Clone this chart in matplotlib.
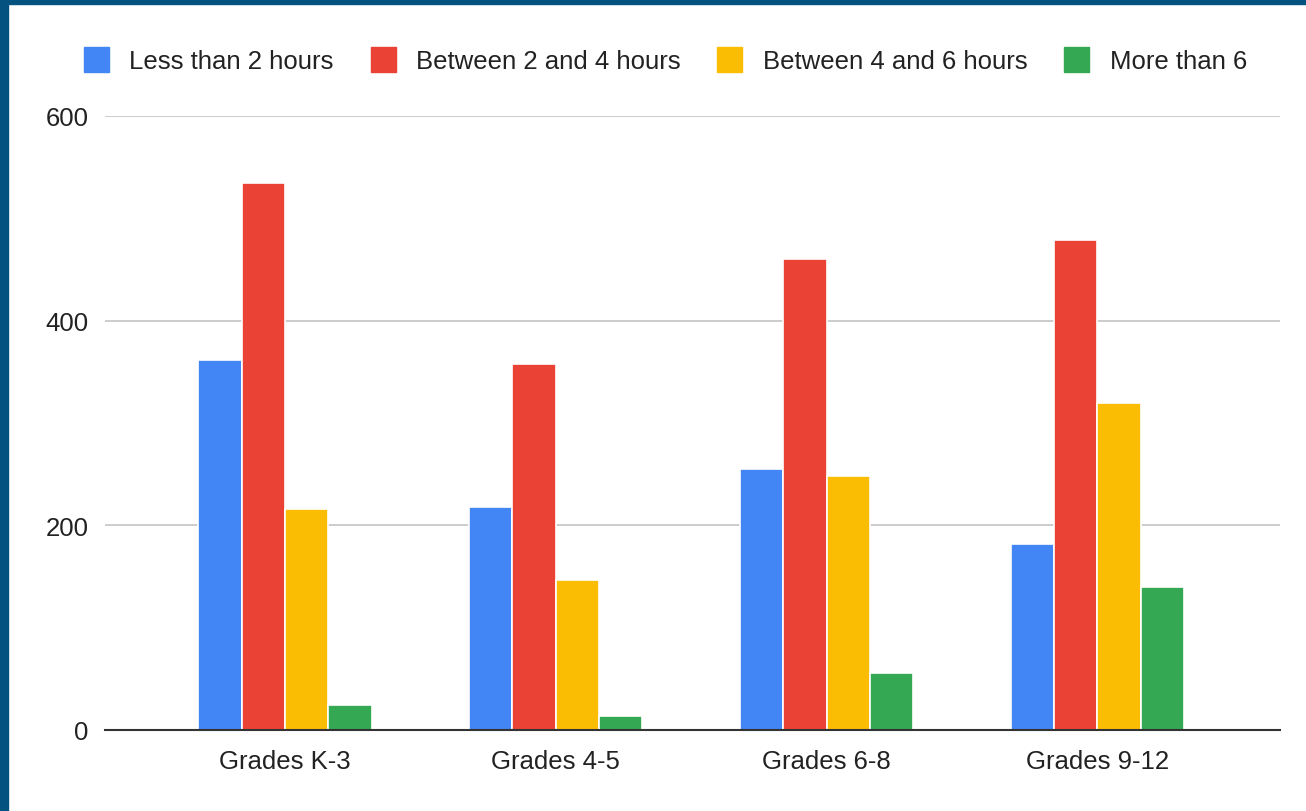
import numpy as np
import matplotlib
matplotlib.use('Agg')
import matplotlib.pyplot as plt
from matplotlib.lines import Line2D
from matplotlib.patches import Rectangle

# 数据
grades = ['Grades K-3', 'Grades 4-5', 'Grades 6-8', 'Grades 9-12']
series = ['Less than 2 hours', 'Between 2 and 4 hours', 'Between 4 and 6 hours', 'More than 6']
less_than_2 = [362, 218, 255, 182]
between_2_4 = [535, 358, 460, 479]
between_4_6 = [216, 147, 248, 320]
more_than_6 = [24, 14, 56, 140]
colors = ['#4285F4', '#EA4335', '#FBBC04', '#34A853']
y_ticks = [0, 200, 400, 600]

plt.rcParams['font.family'] = ['Liberation Sans', 'DejaVu Sans']
fs = 18.5

fig = plt.figure(figsize=(13.06, 8.12), dpi=100)
# 外框（左、上的深蓝边）
fig.patches.append(Rectangle((0, 0), 8 / 1306, 1, transform=fig.transFigure,
                             color='#03527F', zorder=0))
fig.patches.append(Rectangle((0, 1 - 5 / 812), 1, 5 / 812, transform=fig.transFigure,
                             color='#03527F', zorder=0))

ax = fig.add_axes([105 / 1306, 1 - 731 / 812, 1175 / 1306, (731 - 117) / 812])

x = np.arange(len(grades))
w = 0.16
data = [less_than_2, between_2_4, between_4_6, more_than_6]
for i, vals in enumerate(data):
    ax.bar(x + (i - 1.5) * w, vals, width=w, color=colors[i],
           edgecolor='white', linewidth=1.2, zorder=3)

ax.set_xlim(-0.665, 3.675)
ax.set_ylim(0, 600)
ax.set_yticks(y_ticks)
ax.set_yticklabels([str(t) for t in y_ticks], fontsize=fs, color='#222222')
ax.set_xticks(x)
ax.set_xticklabels(grades, fontsize=fs, color='#222222')
ax.tick_params(axis='both', length=0)
ax.tick_params(axis='x', pad=14)
ax.tick_params(axis='y', pad=12)
for s in ['top', 'right', 'left']:
    ax.spines[s].set_visible(False)
ax.spines['bottom'].set_color('#333333')
ax.spines['bottom'].set_linewidth(1.5)
ax.spines['bottom'].set_zorder(4)
ax.yaxis.grid(True, color='#C8C8C8', linewidth=1.3, zorder=0)
ax.set_axisbelow(True)

handles = [Line2D([], [], marker='s', linestyle='none', markersize=18,
                  markerfacecolor=c, markeredgecolor=c) for c in colors]
leg = fig.legend(handles, series, loc='center', bbox_to_anchor=(665 / 1306, 1 - 62 / 812),
                 ncol=4, frameon=False, fontsize=fs, handlelength=1.0,
                 handletextpad=0.8, columnspacing=1.4)
for t in leg.get_texts():
    t.set_color('#222222')

fig.savefig('out.png', dpi=100)
